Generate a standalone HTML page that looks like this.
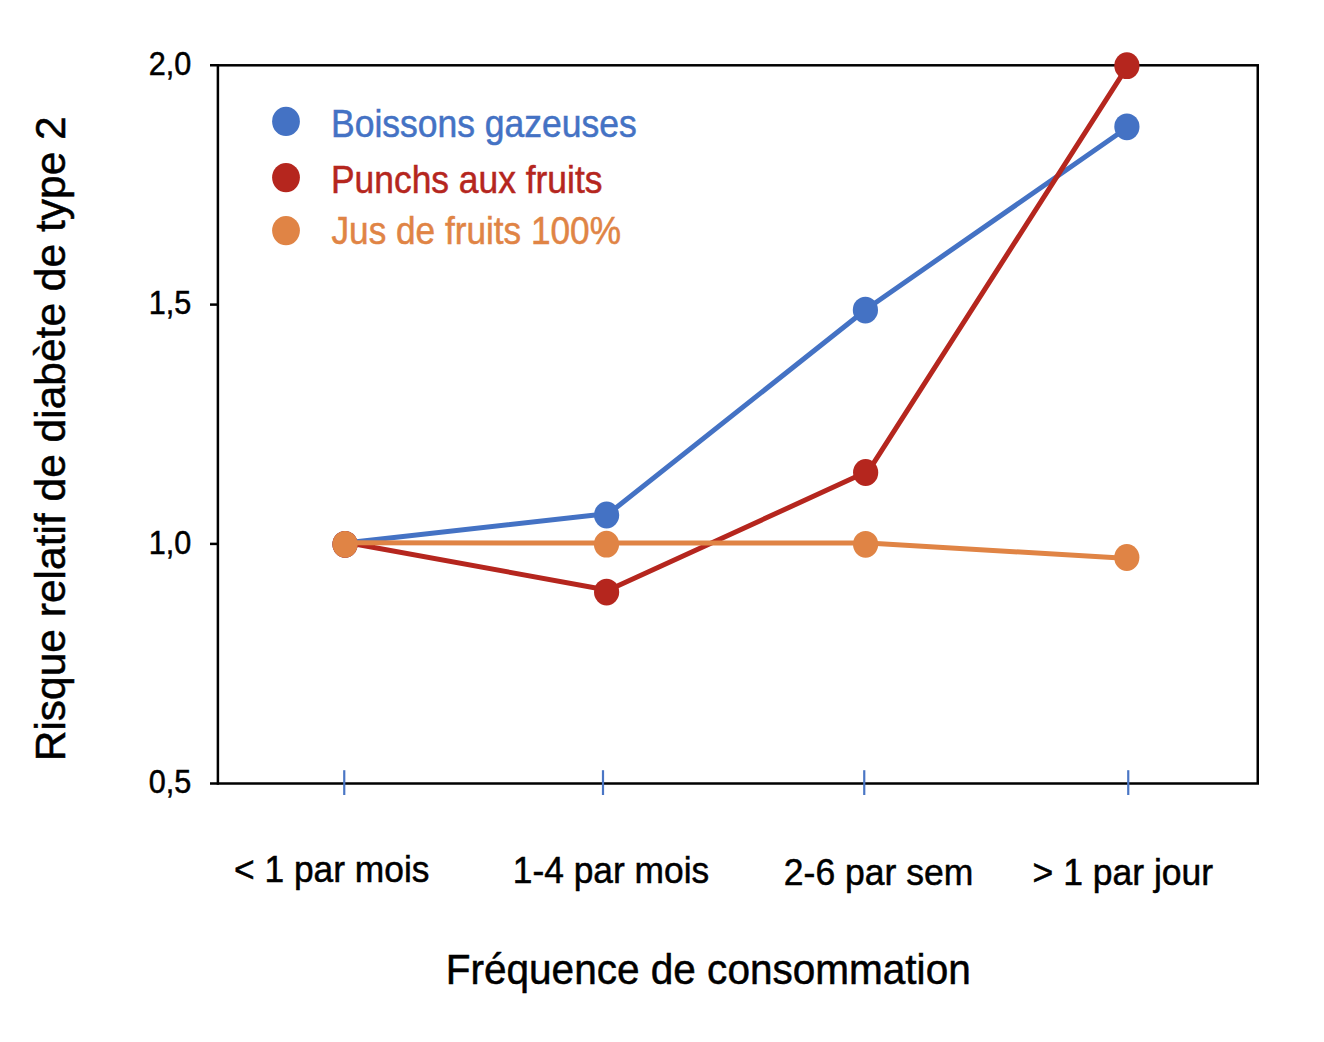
<!DOCTYPE html>
<html>
<head>
<meta charset="utf-8">
<title>Risque relatif de diabète de type 2</title>
<style>
html,body{margin:0;padding:0;background:#fff;}
body{width:1324px;height:1042px;overflow:hidden;}
svg{display:block;}
text{font-family:"Liberation Sans",sans-serif;stroke-width:0.5px;vector-effect:non-scaling-stroke;}
</style>
</head>
<body>
<svg width="1324" height="1042" viewBox="0 0 1324 1042">
<rect x="0" y="0" width="1324" height="1042" fill="#ffffff"/>

<!-- y ticks -->
<g stroke="#000" stroke-width="2.5" fill="none">
<line x1="210" y1="65.25" x2="219" y2="65.25"/>
<line x1="210" y1="304.6" x2="219" y2="304.6"/>
<line x1="210" y1="543.9" x2="219" y2="543.9"/>
<line x1="210" y1="783.5" x2="219" y2="783.5"/>
<!-- frame -->
<rect id="frame" x="217.9" y="65.3" width="1039.85" height="718.2"/>
</g>

<!-- x ticks -->
<g stroke="#4a76c5" stroke-width="2.2">
<line x1="344.25" y1="770.2" x2="344.25" y2="795"/>
<line x1="603" y1="770.2" x2="603" y2="795"/>
<line x1="864.25" y1="770.2" x2="864.25" y2="795"/>
<line x1="1128.25" y1="770.2" x2="1128.25" y2="795"/>
</g>

<!-- series: blue -->
<g id="s-blue" stroke="#4472C4" fill="#4472C4">
<polyline fill="none" stroke-width="5" stroke-linejoin="round" points="347.25,542.8 608.8,513.5 867.6,308.2 1129.1,126.3"/>
<g stroke="none"><ellipse cx="345.05" cy="544.3" rx="12.6" ry="13.4"/><ellipse cx="606.6" cy="515.0" rx="12.6" ry="13.4"/><ellipse cx="865.4" cy="310.1" rx="12.6" ry="13.4"/><ellipse cx="1126.9" cy="126.8" rx="12.6" ry="13.4"/></g>
</g>
<!-- series: red -->
<g id="s-red" stroke="#B5261E" fill="#B5261E">
<polyline fill="none" stroke-width="5" stroke-linejoin="round" points="347.85,542.7 608.1,590.25 868.45,471.1 1128.9,64.2"/>
<g stroke="none"><ellipse cx="345.05" cy="544.3" rx="12.6" ry="13.4"/><ellipse cx="606.6" cy="592.1" rx="12.6" ry="13.4"/><ellipse cx="865.65" cy="472.5" rx="12.6" ry="13.4"/><ellipse cx="1126.9" cy="65.7" rx="12.6" ry="13.4"/></g>
</g>
<!-- series: orange -->
<g id="s-orange" stroke="#E08445" fill="#E08445">
<polyline fill="none" stroke-width="5" stroke-linejoin="round" points="347.25,542.8 608.7,543.0 868.0,543.0 1128.8,558.5"/>
<g stroke="none"><ellipse cx="345.05" cy="544.3" rx="12.6" ry="13.4"/><ellipse cx="606.5" cy="544.2" rx="12.6" ry="13.4"/><ellipse cx="865.6" cy="544.3" rx="12.6" ry="13.4"/><ellipse cx="1126.8" cy="557.5" rx="12.6" ry="13.4"/></g>
</g>

<!-- legend -->
<ellipse cx="286" cy="121.4" rx="13.9" ry="14.65" fill="#4472C4"/>
<ellipse cx="286" cy="177.6" rx="13.9" ry="14.65" fill="#B5261E"/>
<ellipse cx="286" cy="230.6" rx="13.9" ry="14.65" fill="#E08445"/>
<g font-size="35.5">
<text id="lg1" transform="translate(331.0,137.3) scale(1,1.082)" fill="#4472C4" stroke="#4472C4">Boissons gazeuses</text>
<text id="lg2" font-size="35.4" transform="translate(331.0,193.1) scale(1,1.085)" fill="#B5261E" stroke="#B5261E">Punchs aux fruits</text>
<text id="lg3" font-size="35.2" transform="translate(331.5,243.6) scale(1,1.09)" fill="#E08445" stroke="#E08445">Jus de fruits 100%</text>
</g>

<!-- y tick labels -->
<g font-size="30.6" text-anchor="end" fill="#000" stroke="#000">
<text id="yt1" transform="translate(191.2,75.2) scale(1,1.057)">2,0</text>
<text id="yt2" transform="translate(191.2,314.3) scale(1,1.057)">1,5</text>
<text id="yt3" transform="translate(191.2,553.8) scale(1,1.057)">1,0</text>
<text id="yt4" transform="translate(191.2,793.3) scale(1,1.057)">0,5</text>
</g>

<!-- x tick labels -->
<g font-size="35.35" fill="#000" stroke="#000">
<text id="xt1" transform="translate(234.0,881.6) scale(1,1.04)">&lt; 1 par mois</text>
<text id="xt2" transform="translate(512.8,883.0) scale(1,1.05)">1-4 par mois</text>
<text id="xt3" transform="translate(783.8,885.3) scale(1,1.04)" font-size="35.55">2-6 par sem</text>
<text id="xt4" transform="translate(1032.6,885.3) scale(1,1.04)" font-size="35.5">&gt; 1 par jour</text>
</g>

<!-- axis titles -->
<text id="xtitle" transform="translate(445.7,983.8) scale(1,1.05)" font-size="40.55" fill="#000" stroke="#000">Fréquence de consommation</text>
<text id="ytitle" transform="translate(64.5,761.3) rotate(-90) scale(1,1.0)" font-size="42.5" fill="#000" stroke="#000">Risque relatif de diabète de type 2</text>
</svg>
</body>
</html>
